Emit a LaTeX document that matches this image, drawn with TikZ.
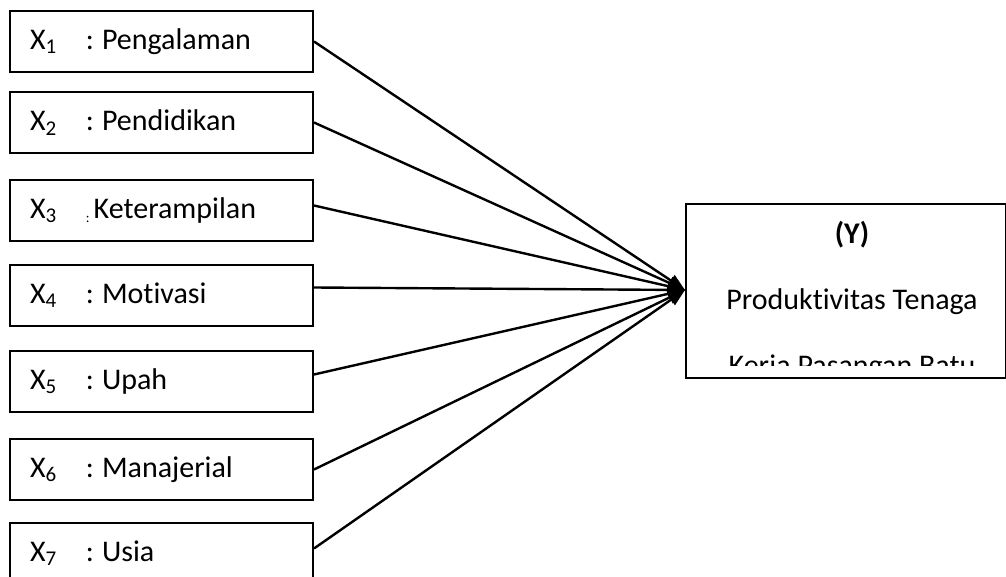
\documentclass[tikz,border=0pt]{standalone}
\usepackage{fontspec}
\setmainfont{Carlito}[Ligatures=CommonOff]
\usetikzlibrary{arrows.meta}

\begin{document}
\begin{tikzpicture}[x=0.5pt, y=-0.5pt,
	var/.style={draw, line width=1pt, anchor=north west, minimum width=151.5pt,
		minimum height=30.5pt, inner xsep=10pt, text width=131.5pt, align=left,
		font=\fontsize{15}{18}\selectfont},
	txt/.style={anchor=base, inner sep=0pt, font=\fontsize{15}{18}\selectfont}]
	\clip (0,0) rectangle (1006,577);
	% variables X
	\node[var] (x1) at (9,10)  {\makebox[28pt][l]{X\textsubscript{1}}:\hspace{-3.5pt} Pengalaman};
	\node[var] (x2) at (9,91)  {\makebox[28pt][l]{X\textsubscript{2}}:\hspace{-3.5pt} Pendidikan};
	\node[var] (x3) at (9,179) {\makebox[28pt][l]{X\textsubscript{3}}\raisebox{-2pt}{\scriptsize :}\hspace{2pt}Keterampilan};
	\node[var] (x4) at (9,264) {\makebox[28pt][l]{X\textsubscript{4}}:\hspace{-3.5pt} Motivasi};
	\node[var] (x5) at (9,350) {\makebox[28pt][l]{X\textsubscript{5}}:\hspace{-3.5pt} Upah};
	\node[var] (x6) at (9,438) {\makebox[28pt][l]{X\textsubscript{6}}:\hspace{-3.5pt} Manajerial};
	\node[var] (x7) at (9,522) {\makebox[28pt][l]{X\textsubscript{7}}:\hspace{-3.5pt} Usia};
	% variable Y
	\node[draw, line width=1pt, anchor=north west, minimum width=160pt, minimum height=87pt] (y) at (685,203) {};
	\node[txt, font=\fontsize{15}{18}\selectfont\bfseries] (yl) at (852,243) {(Y)};
	\node[txt] (y1) at (852,309) {Produktivitas Tenaga};
	\begin{scope}
		\clip (690,330) rectangle (1000,365);
		\node[txt] (y2) at (852,375) {Kerja Pasangan Batu};
	\end{scope}
	\foreach \from/\dy in {x1/0,x2/0,x3/2.5,x4/4,x5/3.5,x6/0,x7/2.5}
		\draw[line width=1.2pt, -{Triangle[length=8.5pt,width=6.5pt]}] ([yshift=\dy pt]\from.east) -- ([yshift=0.5pt]y.west);
\end{tikzpicture}
\end{document}
